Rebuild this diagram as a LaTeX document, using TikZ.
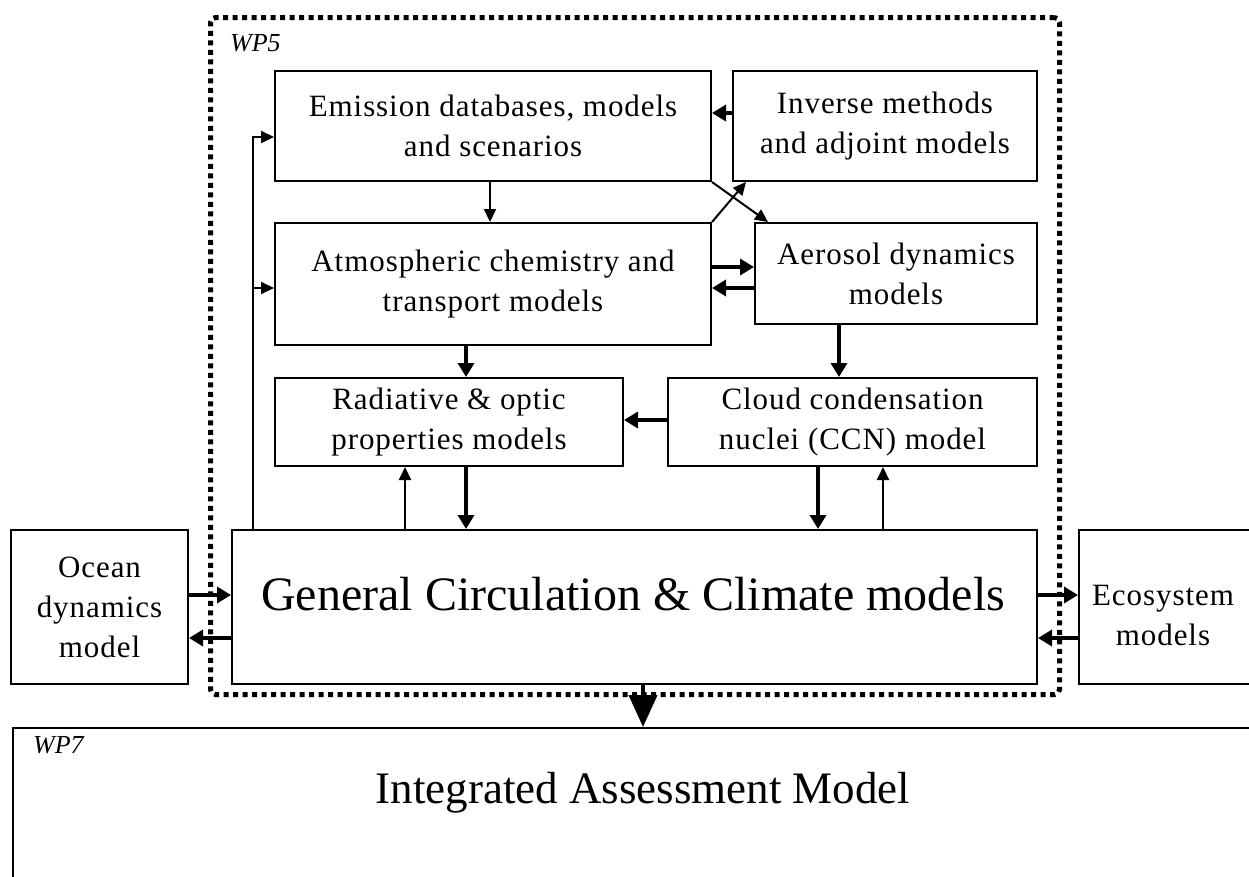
\documentclass[tikz,border=0pt]{standalone}
\usepackage{fontspec}
\setmainfont{Liberation Serif}
\newfontfamily\boxfont[LetterSpace=3]{Liberation Serif}
\usetikzlibrary{arrows.meta}

\begin{document}
\begin{tikzpicture}[x=1pt,y=-1pt,
  box/.style={draw, line width=2pt, anchor=north west, inner sep=0pt},
  lbl/.style={font=\boxfont\fontsize{31}{40}\selectfont, align=center},
  wplbl/.style={font=\itshape\fontsize{26}{26}\selectfont, anchor=west, inner sep=0pt},
  conthin/.style={line width=2pt, -{Triangle[length=13pt,width=12pt]}},
  conthick/.style={line width=4pt, -{Triangle[length=14pt,width=16pt]}},
  frame/.style={draw, line width=5pt, dash pattern=on 5pt off 4.5pt, rounded corners=5pt, anchor=north west, inner sep=0pt},
]
\useasboundingbox (0,0) rectangle (1249,876);
\clip (0,0) rectangle (1249,876);

% WP5 frame
\node[frame, minimum width=849pt, minimum height=677pt] (wp5) at (208,15) {};
\node[wplbl] (wp5lbl) at (230,43) {WP5};

% model boxes
\node[box, lbl, minimum width=436pt, minimum height=110pt] (emis) at (274,70) {Emission databases, models\\and scenarios};
\node[box, lbl, minimum width=304pt, minimum height=110pt] (inv) at (732,70) {Inverse methods\\and adjoint models};
\node[box, lbl, minimum width=436pt, minimum height=122pt] (atm) at (274,222) {Atmospheric chemistry and\\transport models};
\node[box, lbl, minimum width=282pt, minimum height=101pt] (aer) at (754,222) {Aerosol dynamics\\models};
\node[box, lbl, minimum width=348pt, minimum height=88pt] (rad) at (274,377) {Radiative \& optic\\properties models};
\node[box, lbl, minimum width=369pt, minimum height=88pt] (ccn) at (667,377) {Cloud condensation\\nuclei (CCN) model};

\node[box, minimum width=805pt, minimum height=154pt] (gcm) at (231,529) {};
\node[font=\fontsize{48}{48}\selectfont] (gcmtxt) at (633,594) {General Circulation \& Climate models};
\node[box, lbl, minimum width=177pt, minimum height=154pt] (ocean) at (10,529) {Ocean\\dynamics\\model};
\node[box, minimum width=200pt, minimum height=154pt] (eco) at (1078,529) {};
\node[lbl] (ecotxt) at (1163,615) {Ecosystem\\models};

% WP7
\node[box, minimum width=1300pt, minimum height=200pt] (wp7) at (12,727) {};
\node[wplbl] (wp7lbl) at (33,745) {WP7};
\node[font=\fontsize{45}{45}\selectfont] (iam) at (643,793) {Integrated Assessment Model};

% connectors inside WP5
\draw[conthick] (inv.west |- 0,113) -- (emis.east |- 0,113);
\draw[conthin] (emis.south -| 490,0) -- (atm.north -| 490,0);
\draw[conthin] (emis.south east) -- ([xshift=14pt]aer.north west);
\draw[conthin] (atm.north east) -- ([xshift=14pt]inv.south west);
\draw[conthick] (atm.east |- 0,267) -- (aer.west |- 0,267);
\draw[conthick] (aer.west |- 0,288) -- (atm.east |- 0,288);
\draw[conthick] (atm.south -| 466,0) -- (rad.north -| 466,0);
\draw[conthick] (aer.south -| 839,0) -- (ccn.north -| 839,0);
\draw[conthick] (ccn.west |- 0,420) -- (rad.east |- 0,420);
\draw[conthin] (gcm.north -| 405,0) -- (rad.south -| 405,0);
\draw[conthick] (rad.south -| 466,0) -- (gcm.north -| 466,0);
\draw[conthick] (ccn.south -| 818,0) -- (gcm.north -| 818,0);
\draw[conthin] (gcm.north -| 883,0) -- (ccn.south -| 883,0);

% feedback from the GCM to emissions and transport
\draw[conthin] (gcm.north -| 253,0) |- (emis.west |- 0,137);
\draw[conthin] (253,288) -- (atm.west |- 0,288);

% exchanges with ocean and ecosystem models
\draw[conthick] (ocean.east |- 0,595) -- (gcm.west |- 0,595);
\draw[conthick] (gcm.west |- 0,638) -- (ocean.east |- 0,638);
\draw[conthick] (gcm.east |- 0,595) -- (eco.west |- 0,595);
\draw[conthick] (eco.west |- 0,638) -- (gcm.east |- 0,638);

% output to the integrated assessment
\draw[line width=4pt, -{Triangle[length=32pt,width=28pt]}] (gcm.south -| 643,0) -- (wp7.north -| 643,0);
\end{tikzpicture}
\end{document}
